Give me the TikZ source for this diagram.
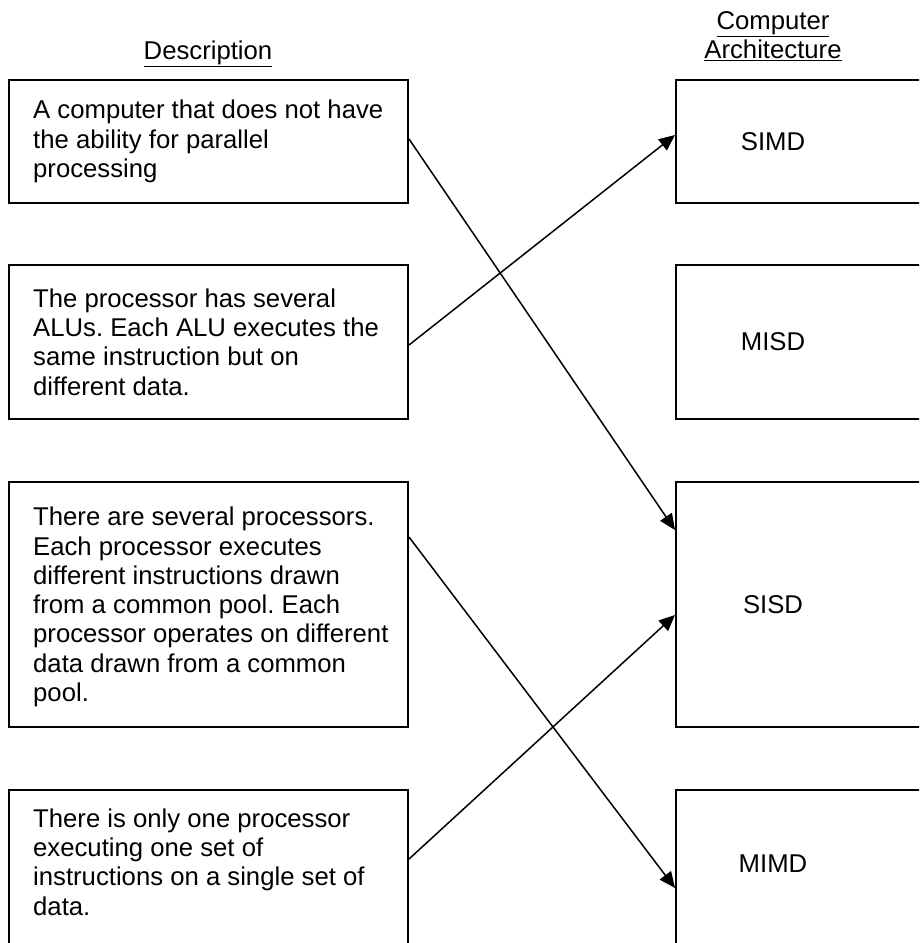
\documentclass[tikz,border=0pt]{standalone}
\usepackage{fontspec}
\setmainfont{Liberation Sans}
\usetikzlibrary{arrows.meta,calc}
\frenchspacing
\begin{document}
\begin{tikzpicture}[x=1pt,y=-1pt,
  box/.style={draw=black, line width=2pt, rectangle, inner sep=0pt},
  lbox/.style={box, minimum width=399pt},
  rbox/.style={box, minimum width=300pt},
  txt/.style={inner sep=0pt, align=left, anchor=west, font=\fontsize{25.7}{29.3}\selectfont},
  lab/.style={inner sep=0pt, align=center, font=\fontsize{25.7}{29.3}\selectfont},
  conn/.style={line width=1.5pt, -{Triangle[length=16pt,width=14pt]}}]
\useasboundingbox (0,0) rectangle (919,943);
\clip (0,0) rectangle (919,943);
\fill[white] (0,0) rectangle (919,943);

% headings
\node[lab] (hd) at (208,54) {\underline{Description}};
\node[lab] (ha) at (773,36) {\underline{Computer}\\\underline{Architecture}};

% left boxes
\node[lbox, minimum height=123pt] (d1) at (208.5,141.5) {};
\node[lbox, minimum height=154pt] (d2) at (208.5,342) {};
\node[lbox, minimum height=245pt] (d3) at (208.5,604.5) {};
\node[lbox, minimum height=210pt] (d4) at (208.5,895) {};

% right boxes
\node[rbox, minimum height=123pt] (a1) at (826,141.5) {};
\node[rbox, minimum height=154pt] (a2) at (826,342) {};
\node[rbox, minimum height=245pt] (a3) at (826,604.5) {};
\node[rbox, minimum height=210pt] (a4) at (826,895) {};

% left texts
\node[txt] (t1) at (33,141.5) {A computer that does not have\\the ability for parallel\\processing};
\node[txt] (t2) at (33,342) {The processor has several\\ALUs. Each ALU executes the\\same instruction but on\\different data.};
\node[txt] (t3) at (33,607) {There are several processors.\\Each processor executes\\different instructions drawn\\from a common pool. Each\\processor operates on different\\data drawn from a common\\pool.};
\node[txt] (t4) at (33,862) {There is only one processor\\executing one set of\\instructions on a single set of\\data.};

% right labels
\node[lab] (l1) at (773,141.5) {SIMD};
\node[lab] (l2) at (773,342) {MISD};
\node[lab] (l3) at (773,604.5) {SISD};
\node[lab] (l4) at (773,864) {MIMD};

% connectors
\draw[conn] ($(d1.east)+(0,-2.5)$) -- ($(a3.west)+(0,-74.5)$);
\draw[conn] ($(d2.east)+(0,3)$) -- ($(a1.west)+(0,-6.5)$);
\draw[conn] ($(d3.east)+(0,-67.5)$) -- ($(a4.west)+(0,-7)$);
\draw[conn] ($(d4.east)+(0,-36)$) -- ($(a3.west)+(0,10.5)$);
\end{tikzpicture}
\end{document}
